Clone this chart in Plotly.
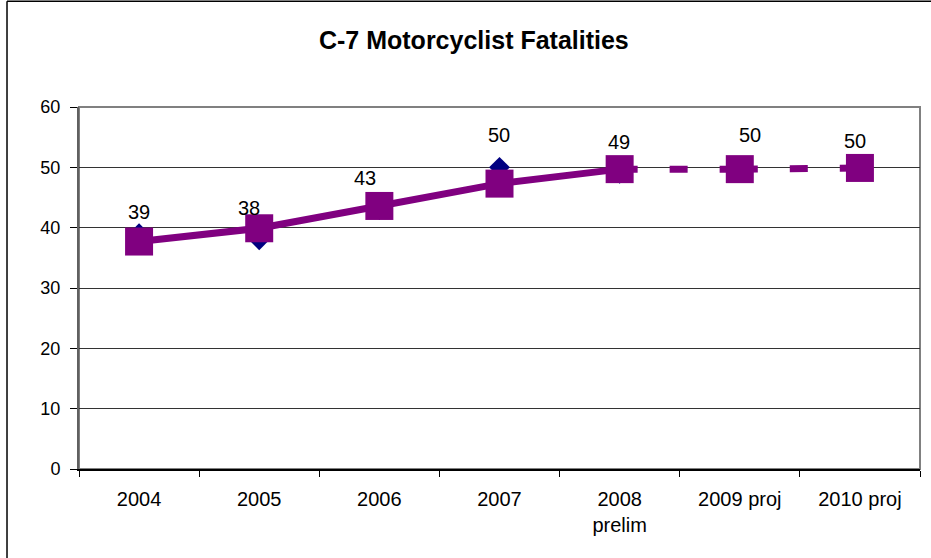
import plotly.graph_objects as go

categories = ["2004", "2005", "2006", "2007", "2008<br>prelim", "2009 proj", "2010 proj"]
actual = [39, 38, 43, 50, 49, 50, 50]
trend = [37.7, 39.9, 43.6, 47.3, 49.7, 49.7, 49.9]
y_ticks = [0, 10, 20, 30, 40, 50, 60]

# label offsets (style only)
label_yshift = [22, 32, 32, 32, 31, 32, 26]
label_xshift = [0, -10, -14, -1, -1, 10, -5]

FONT = "Liberation Sans, Arial, sans-serif"
PURPLE = "#800080"
NAVY = "#000080"

fig = go.Figure()

# actual values (navy diamonds)
fig.add_trace(go.Scatter(
    x=categories, y=actual, mode="markers",
    marker=dict(symbol="diamond", size=16, color=NAVY),
    showlegend=False, hoverinfo="x+y"))

# trend line: solid for measured years
fig.add_trace(go.Scatter(
    x=categories[:5], y=trend[:5], mode="lines",
    line=dict(color=PURPLE, width=7),
    showlegend=False, hoverinfo="skip"))

# projected segments, dashed (dash pattern restarts per segment)
for i in range(4, len(categories) - 1):
    fig.add_trace(go.Scatter(
        x=categories[i:i + 2], y=trend[i:i + 2], mode="lines",
        line=dict(color=PURPLE, width=7, dash="18px,32px"),
        showlegend=False, hoverinfo="skip"))

# trend markers
fig.add_trace(go.Scatter(
    x=categories, y=trend, mode="markers",
    marker=dict(symbol="square", size=28, color=PURPLE, line=dict(width=0)),
    showlegend=False, hoverinfo="x+y"))

annotations = []
for i, (v, ys, xs) in enumerate(zip(actual, label_yshift, label_xshift)):
    annotations.append(dict(
        x=i, y=v, xref="x", yref="y", text=str(v), showarrow=False,
        yshift=ys, xshift=xs, font=dict(family=FONT, size=20, color="black")))

shapes = [
    # plot area frame
    dict(type="rect", xref="paper", yref="paper", x0=0, x1=1, y0=0, y1=1,
         line=dict(color="#808080", width=2), layer="below"),
    # outer chart border (left and top)
    dict(type="line", xref="paper", yref="paper", x0=-0.0856, x1=-0.0856,
         y0=-0.4, y1=1.292, line=dict(color="black", width=1.5)),
    dict(type="line", xref="paper", yref="paper", x0=-0.0856, x1=1.05,
         y0=1.292, y1=1.292, line=dict(color="black", width=1.5)),
]

fig.update_layout(
    width=931, height=558,
    margin=dict(l=79, r=11, t=107, b=89),
    paper_bgcolor="white", plot_bgcolor="white",
    font=dict(family=FONT, size=18, color="black"),
    title=dict(text="<b>C-7 Motorcyclist Fatalities</b>",
               font=dict(family=FONT, size=25, color="black"),
               x=0.509, xref="container", xanchor="center",
               y=0.928, yref="container", yanchor="middle"),
    annotations=annotations,
    shapes=shapes,
    showlegend=False,
)

fig.update_xaxes(
    type="category", categoryorder="array", categoryarray=categories,
    range=[-0.5, len(categories) - 0.5],
    showline=True, linecolor="black", linewidth=2,
    ticks="outside", tickson="boundaries", ticklen=6, tickcolor="black",
    showgrid=False, tickfont=dict(family=FONT, size=20, color="black"),
    ticklabelstandoff=11,
)

fig.update_yaxes(
    range=[0, 60], tickvals=y_ticks, ticktext=[str(t) for t in y_ticks],
    showline=True, linecolor="#606060", linewidth=2,
    ticks="outside", ticklen=7, tickcolor="black",
    showgrid=True, gridcolor="#333333", gridwidth=1,
    zeroline=False, tickfont=dict(family=FONT, size=18, color="black"),
    ticklabelstandoff=6,
)

fig.write_html("out.html", config={"displayModeBar": False},
               post_script="document.body.style.margin='0';")
